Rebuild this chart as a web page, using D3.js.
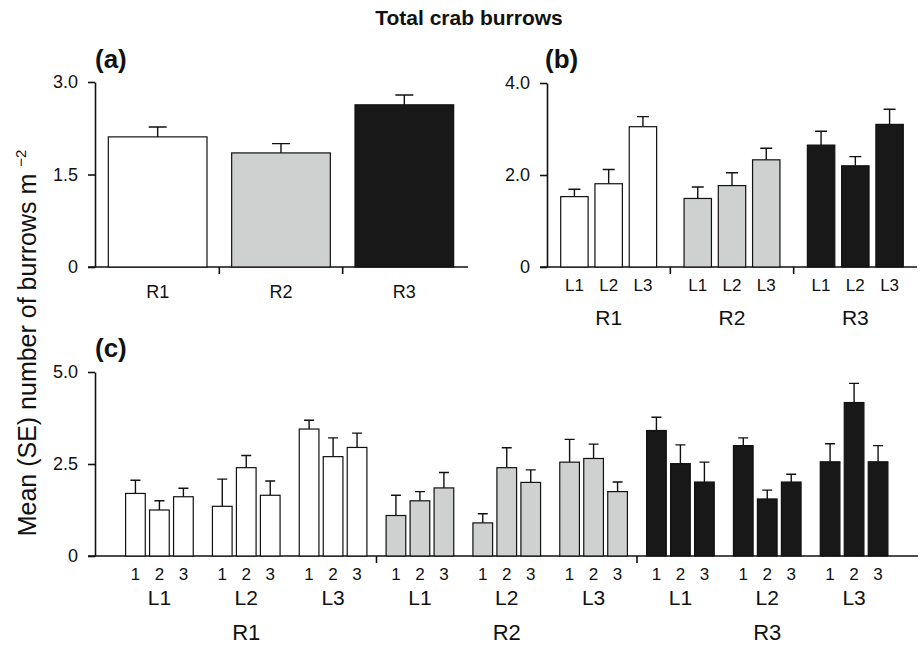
<!DOCTYPE html>
<meta charset="utf-8">
<script src="https://d3js.org/d3.v7.min.js"></script>
<style>
  body { margin: 0; background: #fff; }
  text { font-family: 'Liberation Sans', Arial, Helvetica, sans-serif; fill: #111; }
  .tick text { font-size: 18px; }
  .panel-tag { font-size: 26px; font-weight: bold; }
</style>
<div id="chart"></div>
<script>

// categories
var regions = ["R1", "R2", "R3"];
var levels = ["L1", "L2", "L3"];
var reps = ["1", "2", "3"];

// (a) by region
var meanA = [2.11, 1.85, 2.63];
var seA = [0.16, 0.15, 0.16];

// (b) region x level, R1 L1..L3, R2 L1..L3, R3 L1..L3
var meanB = [1.53, 1.81, 3.05, 1.49, 1.77, 2.33, 2.65, 2.20, 3.10];
var seB = [0.16, 0.31, 0.22, 0.25, 0.28, 0.25, 0.30, 0.20, 0.33];

// (c) region x level x replicate
var meanC = [1.70, 1.25, 1.61, 1.35, 2.40, 1.65, 3.45, 2.70, 2.95,
             1.10, 1.50, 1.85, 0.90, 2.40, 2.00, 2.55, 2.65, 1.75,
             3.41, 2.51, 2.01, 3.00, 1.55, 2.01, 2.56, 4.17, 2.56];
var seC = [0.36, 0.25, 0.23, 0.74, 0.33, 0.39, 0.24, 0.51, 0.39,
           0.55, 0.25, 0.42, 0.25, 0.54, 0.34, 0.62, 0.39, 0.26,
           0.36, 0.51, 0.54, 0.21, 0.24, 0.21, 0.49, 0.52, 0.44];

// y ticks
var ticksA = [0, 1.5, 3.0];
var ticksB = [0, 2.0, 4.0];
var ticksC = [0, 2.5, 5.0];

var fillOf = d3.scaleOrdinal().domain(regions).range(["#ffffff", "#cfd1d0", "#181818"]);
var fmt = function(d) { return d === 0 ? "0" : d3.format(".1f")(d); };

var svg = d3.select("#chart").append("svg")
    .attr("width", 923)
    .attr("height", 646);

svg.append("text")
  .attr("x", 469).attr("y", 25)
  .attr("text-anchor", "middle")
  .style("font-size", "21px").style("font-weight", "bold")
  .text("Total crab burrows");

// rotated axis title shared by all panels
var ylab = svg.append("text")
  .attr("transform", "translate(36,343) rotate(-90)")
  .attr("text-anchor", "middle")
  .style("font-size", "25px")
  .text("Mean (SE) number of burrows m ");
ylab.append("tspan").attr("dy", "-0.7em").style("font-size", "15px").text("\u22122");

function drawYAxis(y, ticks, x0) {
  var g = svg.append("g")
    .attr("transform", "translate(" + x0 + ",0)")
    .call(d3.axisLeft(y).tickValues(ticks).tickFormat(fmt).tickSize(7).tickSizeOuter(0).tickPadding(10));
  g.select(".domain").attr("stroke", "#111").attr("stroke-width", 1.6);
  g.selectAll(".tick line").attr("stroke", "#111").attr("stroke-width", 1.6);
  g.selectAll(".tick text").style("font-family", "'Liberation Sans', Arial, sans-serif");
}

function drawXLine(y0, xa, xb, seps) {
  svg.append("line")
    .attr("x1", xa).attr("x2", xb).attr("y1", y0).attr("y2", y0)
    .attr("stroke", "#111").attr("stroke-width", 1.6);
  svg.selectAll(null).data(seps).enter().append("line")
    .attr("x1", function(d) { return d; }).attr("x2", function(d) { return d; })
    .attr("y1", y0).attr("y2", y0 + 7)
    .attr("stroke", "#111").attr("stroke-width", 1.6);
}

function drawBars(data, y, cap) {
  var g = svg.append("g");
  g.selectAll(".err").data(data).enter().append("path")
    .attr("d", function(d) {
      var cx = d.x + d.w / 2, top = y(d.mean + d.se);
      return "M" + cx + "," + y(d.mean) + "V" + top + "M" + (cx - cap / 2) + "," + top + "H" + (cx + cap / 2);
    })
    .attr("fill", "none").attr("stroke", "#111").attr("stroke-width", 1.4);
  g.selectAll("rect").data(data).enter().append("rect")
    .attr("x", function(d) { return d.x; })
    .attr("y", function(d) { return y(d.mean); })
    .attr("width", function(d) { return d.w; })
    .attr("height", function(d) { return y(0) - y(d.mean); })
    .attr("fill", function(d) { return fillOf(d.r); })
    .attr("stroke", "#111").attr("stroke-width", 1.2);
}

function labels(data, y0, size) {
  svg.selectAll(null).data(data).enter().append("text")
    .attr("x", function(d) { return d.x; })
    .attr("y", y0)
    .attr("text-anchor", "middle")
    .style("font-size", size + "px")
    .text(function(d) { return d.t; });
}

// ---------- (a) ----------
var yA = d3.scaleLinear().domain([0, 3]).range([267, 82]);
var xA = d3.scaleBand().domain(regions).range([96, 466]).paddingInner(0.2).paddingOuter(0.1);
drawXLine(267, 88, 468, [xA("R2") - xA.step() * 0.1, xA("R3") - xA.step() * 0.1]);
drawBars(regions.map(function(r, i) {
  return {r: r, x: xA(r), w: xA.bandwidth(), mean: meanA[i], se: seA[i]};
}), yA, 18);
drawYAxis(yA, ticksA, 95);
labels(regions.map(function(r) { return {x: xA(r) + xA.bandwidth() / 2, t: r}; }), 298, 18);
svg.append("text").attr("class", "panel-tag").attr("x", 95).attr("y", 68).text("(a)");

// ---------- (b) ----------
var yB = d3.scaleLinear().domain([0, 4]).range([267, 83]);
var xB = d3.scaleBand().domain(regions).range([547, 917]);
var xBi = d3.scaleBand().domain(levels).range([0, xB.bandwidth()]).paddingInner(0.2).paddingOuter(0.4);
drawXLine(267, 540, 917, [xB("R2"), xB("R3")]);
var barsB = [];
regions.forEach(function(r, i) {
  levels.forEach(function(l, j) {
    barsB.push({r: r, l: l, x: xB(r) + xBi(l), w: xBi.bandwidth(), mean: meanB[i * 3 + j], se: seB[i * 3 + j]});
  });
});
drawBars(barsB, yB, 12);
drawYAxis(yB, ticksB, 547);
labels(barsB.map(function(d) { return {x: d.x + d.w / 2, t: d.l}; }), 291, 17);
labels(regions.map(function(r) { return {x: xB(r) + xB.bandwidth() / 2, t: r}; }), 325, 21);
svg.append("text").attr("class", "panel-tag").attr("x", 545).attr("y", 68).text("(b)");

// ---------- (c) ----------
var keysC = [];
regions.forEach(function(r) { levels.forEach(function(l) { keysC.push(r + l); }); });
var yC = d3.scaleLinear().domain([0, 5]).range([556, 372]);
var xC = d3.scaleBand().domain(keysC).range([116, 897.5]);
var xCi = d3.scaleBand().domain(reps).range([0, xC.bandwidth()]).paddingInner(0.18).paddingOuter(0.4);
drawXLine(556, 88, 918, [xC("R2L1"), xC("R3L1")]);
var barsC = [];
regions.forEach(function(r, i) {
  levels.forEach(function(l, j) {
    reps.forEach(function(p, k) {
      var n = i * 9 + j * 3 + k;
      barsC.push({r: r, l: l, p: p, x: xC(r + l) + xCi(p), w: xCi.bandwidth(), mean: meanC[n], se: seC[n]});
    });
  });
});
drawBars(barsC, yC, 10);
drawYAxis(yC, ticksC, 95);
labels(barsC.map(function(d) { return {x: d.x + d.w / 2, t: d.p}; }), 580, 17);
labels(keysC.map(function(k) { return {x: xC(k) + xC.bandwidth() / 2, t: k.slice(2)}; }), 605, 21);
labels(regions.map(function(r) {
  return {x: (xC(r + "L1") + xC(r + "L3") + xC.bandwidth()) / 2, t: r};
}), 640, 22);
svg.append("text").attr("class", "panel-tag").attr("x", 95).attr("y", 357).text("(c)");

</script>
